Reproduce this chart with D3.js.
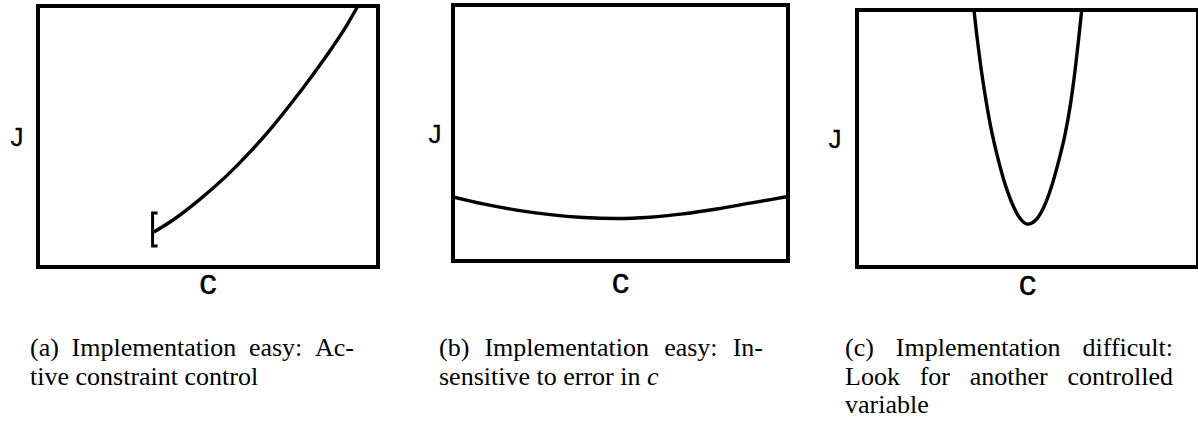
<!DOCTYPE html>
<html>
<head>
<meta charset="utf-8">
<script src="https://cdn.jsdelivr.net/npm/d3@7"></script>
<style>
  html, body { margin: 0; padding: 0; background: #fff; }
  svg { display: block; }
  .sans { font-family: "Liberation Sans", Arial, Helvetica, sans-serif; }
  .serif { font-family: "Liberation Serif", "Times New Roman", Times, serif; }
</style>
</head>
<body>
<svg id="chart" width="1198" height="428"></svg>
<script>
// ---- data (normalised c in [0,1], J in [0,1] of each panel) ----
const curveA_c = [0.341, 0.397, 0.476, 0.556, 0.624, 0.691, 0.750, 0.809, 0.868, 0.909, 0.941];
const curveA_J = [0.134, 0.180, 0.259, 0.351, 0.441, 0.540, 0.636, 0.738, 0.846, 0.928, 1.000];
const bracketA_c = 0.337;
const bracketA_J = [0.080, 0.207];

const curveB_c = [0.000, 0.090, 0.190, 0.290, 0.389, 0.488, 0.588, 0.687, 0.787, 0.887, 1.000];
const curveB_J = [0.250, 0.223, 0.199, 0.181, 0.170, 0.166, 0.171, 0.184, 0.203, 0.226, 0.252];

const curveC_c = [0.343, 0.351, 0.361, 0.375, 0.390, 0.410, 0.429, 0.454, 0.478, 0.501, 0.522, 0.546, 0.571, 0.590, 0.610, 0.625, 0.639, 0.649, 0.659];
const curveC_J = [1.000, 0.905, 0.800, 0.675, 0.560, 0.440, 0.345, 0.250, 0.190, 0.167, 0.180, 0.228, 0.315, 0.405, 0.515, 0.625, 0.760, 0.875, 1.000];

const axisLabelX = "c";
const axisLabelY = "J";

const captionA = [["(a)", "Implementation", "easy:", "Ac-"], ["tive", "constraint", "control"]];
const captionB = [["(b)", "Implementation", "easy:", "In-"], ["sensitive", "to", "error", "in", "$c"]];
const captionC = [["(c)", "Implementation", "difficult:"], ["Look", "for", "another", "controlled"], ["variable"]];

// ---- layout ----
const panels = [
  { left: 38,  right: 378,  top: 6,  bottom: 267, jOff: 21, cOff: 27, c: curveA_c, J: curveA_J, bracket: true,
    cap: captionA, capX0: 30, capX1: 354 },
  { left: 453, right: 788,  top: 5,  bottom: 261, jOff: 18, cOff: 32, c: curveB_c, J: curveB_J, bracket: false,
    cap: captionB, capX0: 439, capX1: 763 },
  { left: 857, right: 1198, top: 10, bottom: 267, jOff: 22, cOff: 28, c: curveC_c, J: curveC_J, bracket: false,
    cap: captionC, capX0: 845, capX1: 1173 }
];
const capBaselines = [356, 385, 413];

const svg = d3.select("#chart");

panels.forEach((p, i) => {
  const x = d3.scaleLinear().domain([0, 1]).range([p.left, p.right]);
  const y = d3.scaleLinear().domain([0, 1]).range([p.bottom, p.top]);
  const g = svg.append("g");

  const clipId = "clip" + i;
  svg.append("clipPath").attr("id", clipId)
    .append("rect").attr("x", x(0)).attr("y", y(1)).attr("width", x(1) - x(0)).attr("height", y(0) - y(1));

  const pts = p.c.map((c, k) => [c, p.J[k]]);
  const line = d3.line().x(d => x(d[0])).y(d => y(d[1])).curve(d3.curveMonotoneX);
  g.append("path").datum(pts)
    .attr("d", line)
    .attr("fill", "none").attr("stroke", "#000").attr("stroke-width", 3.4)
    .attr("stroke-linejoin", "round")
    .attr("clip-path", `url(#${clipId})`);

  if (p.bracket) {
    const bx = x(bracketA_c), b0 = y(bracketA_J[0]), b1 = y(bracketA_J[1]);
    g.append("path")
      .attr("d", `M${bx + 5},${b1} H${bx} V${b0} H${bx + 5}`)
      .attr("fill", "none").attr("stroke", "#000").attr("stroke-width", 3);
  }

  // frame
  g.append("rect")
    .attr("x", x(0)).attr("y", y(1))
    .attr("width", x(1) - x(0)).attr("height", y(0) - y(1))
    .attr("fill", "none").attr("stroke", "#000").attr("stroke-width", 4);

  // axis labels
  g.append("text").attr("class", "sans")
    .attr("x", x(0) - p.jOff).attr("y", (y(0) + y(1)) / 2 + 9.5)
    .attr("text-anchor", "middle")
    .attr("stroke", "#000").attr("stroke-width", 0.3)
    .attr("font-size", 26).text(axisLabelY);
  g.append("text").attr("class", "sans")
    .attr("x", (x(0) + x(1)) / 2).attr("y", y(0) + p.cOff)
    .attr("text-anchor", "middle")
    .attr("stroke", "#000").attr("stroke-width", 0.3)
    .attr("font-size", 35).text(axisLabelX);

  // caption (justified, last line ragged)
  p.cap.forEach((words, li) => {
    const last = li === p.cap.length - 1;
    const t = svg.append("g").attr("class", "serif")
      .attr("font-size", 26).attr("fill", "#000");
    const nodes = words.map(w => {
      const isMath = w.startsWith("$");
      return t.append("text")
        .attr("y", capBaselines[li])
        .attr("font-style", isMath ? "italic" : null)
        .text(isMath ? w.slice(1) : w);
    });
    const widths = nodes.map(n => n.node().getComputedTextLength());
    const total = d3.sum(widths);
    const gap = (!last && words.length > 1)
      ? (p.capX1 - p.capX0 - total) / (words.length - 1)
      : 6.5;
    let cx = p.capX0;
    nodes.forEach((n, k) => { n.attr("x", cx); cx += widths[k] + gap; });
  });
});
</script>
</body>
</html>
